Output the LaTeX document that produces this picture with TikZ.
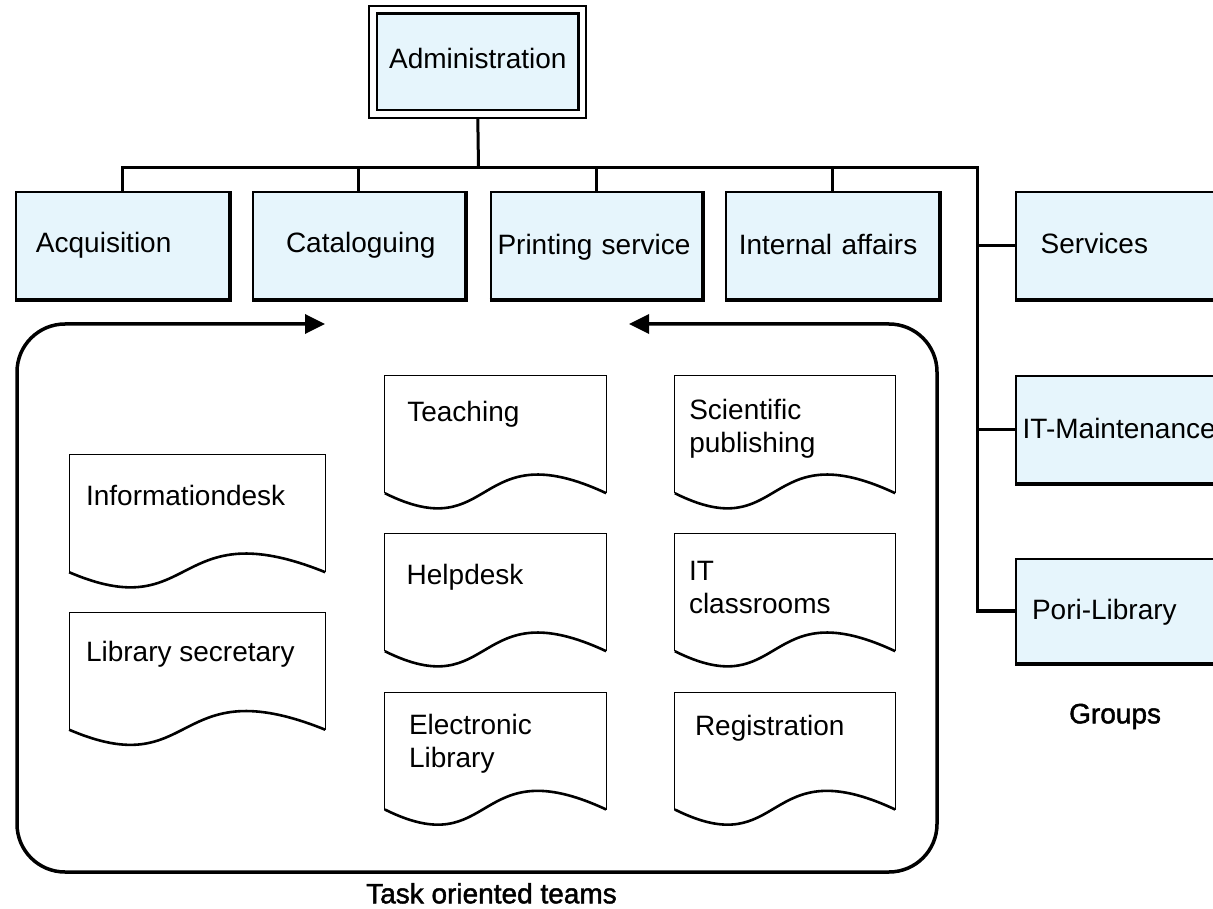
\documentclass[tikz,border=0pt]{standalone}
\usepackage{fontspec}
\setmainfont{Liberation Sans}
\newfontfamily\heavyish[FakeBold=1.6]{Liberation Sans}
\usetikzlibrary{arrows.meta,calc,fit}
\definecolor{boxblue}{HTML}{E6F5FC}
\begin{document}
\begin{tikzpicture}[x=1pt,y=-1pt,
  font=\fontsize{28pt}{33pt}\selectfont,
  bbox/.style={draw=black, line width=2pt, fill=boxblue, text height=20pt, text depth=6pt,
               align=left, minimum height=107.3pt, inner xsep=0pt, inner ysep=0pt},
  docbox/.style={minimum width=#1, minimum height=117pt, inner sep=0pt},
  doctext/.style={anchor=north west, inner sep=0pt, align=left},
  plain/.style={anchor=base west, inner sep=0pt},
  link/.style={line width=3pt},
  heavy/.style={line width=4pt},
  teamtip/.tip={Triangle[length=20pt,width=19pt]}
  ]
\useasboundingbox (0,0) rectangle (1213,909);
\clip (0,0) rectangle (1213,909);

% Administration
\node[bbox, line width=2.5pt, text width=201.6pt, align=center, minimum height=96.7pt] (admin) at (477.8,61.7) {Administration};
\node[fit=(admin), draw, line width=2pt, inner sep=6.3pt] (adminframe) {};

% top row
\node[bbox, text width=213pt] (acq) at (122.5,245.3) {\hspace*{20pt}Acquisition};
\node[bbox, text width=211.6pt] (cat) at (358.8,245.3) {\hspace*{33pt}Cataloguing};
\node[bbox, text width=211pt, text depth=0.6pt] (print) at (596.1,245.3) {\hspace*{6.9pt}Printing service};
\node[bbox, text width=213.4pt, text depth=0.6pt] (int) at (832.6,245.3) {\hspace*{12.9pt}Internal affairs};

% groups on the right
\node[bbox, text width=213pt, text depth=2.6pt] (serv) at (1122.5,245.3) {\hspace*{24.7pt}Services};
\node[bbox, text width=213pt, text depth=2pt] (it) at (1122.5,429.3) {\hspace*{6.7pt}IT-Maintenance};
\node[bbox, text width=213pt, text depth=3.4pt, minimum height=104pt] (pori) at (1122.5,611) {\hspace*{16pt}Pori-Library};

\foreach \n in {acq,cat,print,int,serv,it,pori}
  \draw[heavy] (\n.south west) -- (\n.south east) -- (\n.north east);

% connectors
\coordinate (bus) at (478.5,167.5);
\coordinate (trunk) at (977.5,167.5);
\draw[link] (adminframe.south) -- (bus);
\draw[link, line width=3.5pt] (acq.north) -- (acq.north |- bus) -- (trunk) -- (trunk |- pori.west) -- (pori.west);
\foreach \n in {cat,print,int}
  \draw[link] (\n.north) -- (\n.north |- bus);
\draw[link, line width=3.5pt] (trunk |- serv.west) -- (serv.west);
\draw[link, line width=3.5pt] (trunk |- it.west) -- (it.west);

% task oriented teams container
\coordinate (tipL) at (325,324);
\coordinate (tipR) at (629,324);
\draw[line width=3.5pt, rounded corners=48pt, teamtip-teamtip]
  (tipR) -- (937,324) -- (937,872) -- (17,872) -- (17,324) -- (tipL);

% documents
\node[docbox=255.7pt] (info) at (197.2,513.5) {};
\node[docbox=255.7pt] (libsec) at (197.2,671) {};
\node[docbox=221pt] (teach) at (495.5,434.5) {};
\node[docbox=221pt] (help) at (495.5,592.5) {};
\node[docbox=221pt] (elec) at (495.5,750.8) {};
\node[docbox=220pt] (sci) at (785,434.5) {};
\node[docbox=220pt] (itc) at (785,592.5) {};
\node[docbox=220pt] (reg) at (785,750.8) {};

\foreach \n in {info,libsec,teach,help,elec,sci,itc,reg}{
  \draw[line width=1.2pt] (\n.south west) -- (\n.north west) -- (\n.north east) -- (\n.south east);
  \draw[line width=2.6pt] (\n.south west)
    .. controls ($(\n.south west)!0.5!(\n.south east)+(0,55)$)
           and ($(\n.south west)!0.4!(\n.south east)+(0,-62)$) .. (\n.south east);
}

\node[doctext] (tinfo) at ($(info.north west)+(16.7,30.7)$) {Informationdesk};
\node[doctext] (tlibsec) at ($(libsec.north west)+(16.7,28.9)$) {Library secretary};
\node[doctext] (tteach) at ($(teach.north west)+(22.3,25.4)$) {Teaching};
\node[doctext] (thelp) at ($(help.north west)+(21.7,30.7)$) {Helpdesk};
\node[doctext] (telec) at ($(elec.north west)+(24,22.4)$) {Electronic\\Library};
\node[doctext] (tsci) at ($(sci.north west)+(14.3,23)$) {Scientific\\publishing};
\node[doctext] (titc) at ($(itc.north west)+(14,27.6)$) {IT\\classrooms};
\node[doctext] (treg) at ($(reg.north west)+(20,23.4)$) {Registration};

% captions
\node[plain, font=\heavyish\fontsize{28pt}{33pt}\selectfont] (groups) at (1069,723.3) {Groups};
\node[plain, font=\heavyish\fontsize{28pt}{33pt}\selectfont] (teams) at (366,903.3) {Task oriented teams};
\end{tikzpicture}
\end{document}
